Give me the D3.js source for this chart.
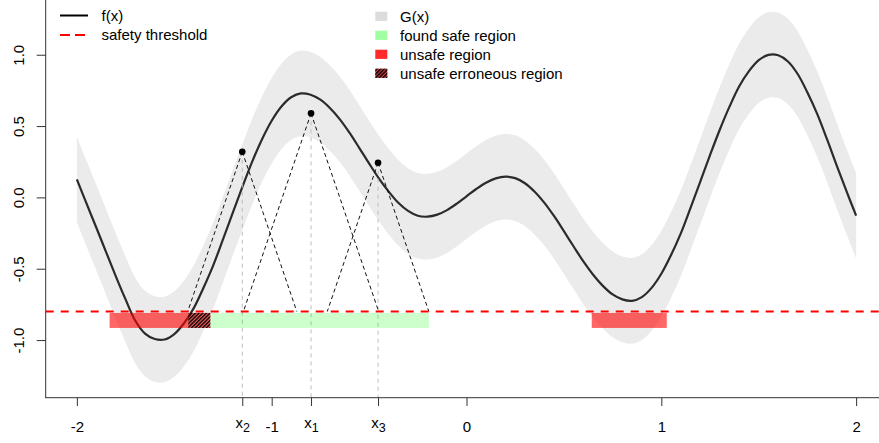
<!DOCTYPE html>
<html><head><meta charset="utf-8">
<script src="https://cdn.jsdelivr.net/npm/d3@7"></script>
<style>body{margin:0;background:#fff}svg{display:block;font-family:"Liberation Sans",Arial,sans-serif}</style>
</head><body><svg id="c" width="879" height="443"></svg>
<script>
// ---- data ----
const xGrid = [-2.00,-1.95,-1.90,-1.85,-1.80,-1.75,-1.70,-1.65,-1.60,-1.55,-1.50,-1.45,-1.40,-1.35,-1.30,-1.25,-1.20,-1.15,-1.10,-1.05,
 -1.00,-0.95,-0.90,-0.85,-0.80,-0.75,-0.70,-0.65,-0.60,-0.55,-0.50,-0.45,-0.40,-0.35,-0.30,-0.25,-0.20,-0.15,-0.10,-0.05,
 0.00,0.05,0.10,0.15,0.20,0.25,0.30,0.35,0.40,0.45,0.50,0.55,0.60,0.65,0.70,0.75,0.80,0.85,0.90,0.95,
 1.00,1.05,1.10,1.15,1.20,1.25,1.30,1.35,1.40,1.45,1.50,1.55,1.60,1.65,1.70,1.75,1.80,1.85,1.90,1.95,2.00];
const fValues = [0.126,-0.044,-0.213,-0.383,-0.553,-0.715,-0.865,-0.955,-0.993,-0.996,-0.958,-0.882,-0.776,-0.633,-0.476,-0.294,-0.109,0.075,0.251,0.406,
 0.537,0.637,0.702,0.729,0.720,0.685,0.625,0.547,0.452,0.346,0.238,0.134,0.042,-0.038,-0.095,-0.129,-0.135,-0.121,-0.089,-0.044,
 0.008,0.059,0.103,0.133,0.145,0.135,0.099,0.039,-0.038,-0.132,-0.237,-0.344,-0.449,-0.542,-0.620,-0.680,-0.715,-0.725,-0.699,-0.634,
 -0.535,-0.404,-0.252,-0.073,0.111,0.296,0.474,0.636,0.779,0.885,0.962,0.999,0.996,0.953,0.865,0.735,0.585,0.410,0.225,0.045,-0.128];
const gHalfWidth = 0.3;            // G(x) = f(x) +/- 0.3
const threshold = -0.8;
const lipschitz = 4;
const sampleNames = ["x1","x2","x3"];
const sampleX = [-0.798,-1.151,-0.454];
const sampleY = [0.589,0.320,0.243];
const unsafeRegions = [[-1.832,-1.315],[0.643,1.028]];
const erroneousRegions = [[-1.428,-1.315]];
const safeRegions = [[-1.315,-0.193]];
const regionBar = [-0.81,-0.915];
const xTickValues = [-2,-1,0,1,2];
const yTickValues = [-1,-0.5,0,0.5,1];
const legend1Labels = ["f(x)","safety threshold"];
const legend2Labels = ["G(x)","found safe region","unsafe region","unsafe erroneous region"];

// ---- drawing ----
const svg = d3.select("#c");
const x = d3.scaleLinear().domain([-2.16,2.16]).range([45.7,887.3]);
const y = d3.scaleLinear().domain([-1.404,1.404]).range([397.7,-2.9]);
const pts = xGrid.map((v,i)=>({x:v,f:fValues[i]}));

const defs = svg.append("defs");
const pat = defs.append("pattern").attr("id","hatch").attr("patternUnits","userSpaceOnUse")
  .attr("width",2.6).attr("height",10).attr("patternTransform","rotate(45)");
pat.append("line").attr("x1",0.7).attr("y1",0).attr("x2",0.7).attr("y2",10).attr("stroke","#000").attr("stroke-width",1.4);
defs.append("clipPath").attr("id","plot").append("rect").attr("x",45.7).attr("y",0).attr("width",833.3).attr("height",397.7);

const g = svg.append("g").attr("clip-path","url(#plot)");

// band
g.append("path").datum(pts).attr("fill","#ebebeb")
 .attr("d", d3.area().curve(d3.curveCatmullRom.alpha(0.5)).x(d=>x(d.x)).y0(d=>y(d.f-gHalfWidth)).y1(d=>y(d.f+gHalfWidth)));
// f(x)
g.append("path").datum(pts).attr("fill","none").attr("stroke","#2b2b2b").attr("stroke-width",2.2)
 .attr("d", d3.line().curve(d3.curveCatmullRom.alpha(0.5)).x(d=>x(d.x)).y(d=>y(d.f)));

// vertical grey dashed lines
sampleX.forEach((sx,i)=>{
  g.append("line").attr("x1",x(sx)).attr("x2",x(sx)).attr("y1",y(sampleY[i])).attr("y2",397.7)
   .attr("stroke","#bdbdbd").attr("stroke-width",1).attr("stroke-dasharray","4,4");
});
// cone lines
sampleX.forEach((sx,i)=>{
  const hw = (sampleY[i]-threshold)/lipschitz;
  [sx-hw, sx+hw].forEach(ex=>{
    g.append("line").attr("x1",x(sx)).attr("y1",y(sampleY[i])).attr("x2",x(ex)).attr("y2",y(threshold))
     .attr("stroke","#111").attr("stroke-width",1).attr("stroke-dasharray","4,3");
  });
});

// region bars
safeRegions.forEach(r=>g.append("rect").attr("x",x(r[0])).attr("width",x(r[1])-x(r[0]))
  .attr("y",y(regionBar[0])).attr("height",y(regionBar[1])-y(regionBar[0])).attr("fill","rgba(0,255,0,0.2)"));
unsafeRegions.forEach(r=>g.append("rect").attr("x",x(r[0])).attr("width",x(r[1])-x(r[0]))
  .attr("y",y(regionBar[0])).attr("height",y(regionBar[1])-y(regionBar[0])).attr("fill","rgba(255,0,0,0.6)"));
erroneousRegions.forEach(r=>g.append("rect").attr("x",x(r[0])).attr("width",x(r[1])-x(r[0]))
  .attr("y",y(regionBar[0])).attr("height",y(regionBar[1])-y(regionBar[0])).attr("fill","url(#hatch)"));

// threshold
g.append("line").attr("x1",45.7).attr("x2",879).attr("y1",y(threshold)).attr("y2",y(threshold))
 .attr("stroke","#ff0000").attr("stroke-width",2).attr("stroke-dasharray","8,7");

// points
sampleX.forEach((sx,i)=>g.append("circle").attr("cx",x(sx)).attr("cy",y(sampleY[i])).attr("r",3.3).attr("fill","#000"));

// axes
const xTicksAll = xTickValues.concat(sampleX);
const xa = svg.append("g").attr("transform","translate(0,397.7)")
  .call(d3.axisBottom(x).tickValues(xTicksAll).tickSize(8.3).tickPadding(15).tickFormat((d,i)=> i<xTickValues.length ? String(d) : ""));
xa.select(".domain").remove();
xa.selectAll(".tick line").attr("stroke","#333");
xa.selectAll(".tick text").attr("font-size",15).attr("fill","#000").attr("font-family","Liberation Sans, Arial, sans-serif");
xa.selectAll(".tick").each(function(d,i){
  if(i>=xTickValues.length){
    const k = i-xTickValues.length;
    const t = d3.select(this).select("text").text(null).attr("dy",null).attr("y",30.6);
    t.append("tspan").text("x");
    t.append("tspan").attr("dy",4).attr("font-size",12.5).text(sampleNames[k].slice(1));
  }
});
const ya = svg.append("g").attr("transform","translate(45.7,0)")
  .call(d3.axisLeft(y).tickValues(yTickValues).tickSize(9).tickFormat(d=>d.toFixed(1)));
ya.select(".domain").remove();
ya.selectAll(".tick line").attr("stroke","#333");
ya.selectAll(".tick text").attr("font-size",15).attr("fill","#000").attr("font-family","Liberation Sans, Arial, sans-serif")
  .attr("x",null).attr("dy",null).attr("text-anchor","middle").attr("transform","translate(-22.2,0) rotate(-90)");

// box lines (bty = "l")
svg.append("line").attr("x1",45.7).attr("x2",45.7).attr("y1",0).attr("y2",398).attr("stroke","#333").attr("stroke-width",1);
svg.append("line").attr("x1",45.2).attr("x2",879).attr("y1",397.7).attr("y2",397.7).attr("stroke","#333").attr("stroke-width",1);

// legend 1
const l1 = svg.append("g").attr("font-size",15);
[0,1].forEach(i=>{
  const cy = 15.5 + i*19.5;
  l1.append("line").attr("x1",60).attr("x2",88).attr("y1",cy).attr("y2",cy)
    .attr("stroke", i===0 ? "#000" : "#ff0000").attr("stroke-width",2).attr("stroke-dasharray", i===0 ? null : "10,5");
  l1.append("text").attr("x",101.5).attr("y",cy+5.2).text(legend1Labels[i]);
});
// legend 2
const l2 = svg.append("g").attr("font-size",15);
const boxFill = ["#dcdcdc","#a0ffa0","#ff2a2a","#c84040"];
legend2Labels.forEach((lab,i)=>{
  const cy = 16.3 + i*19;
  l2.append("rect").attr("x",375.3).attr("y",cy-4.6).attr("width",12).attr("height",9.2).attr("fill",boxFill[i]);
  if(i===3) l2.append("rect").attr("x",375.3).attr("y",cy-4.6).attr("width",12).attr("height",9.2).attr("fill","url(#hatch)");
  l2.append("text").attr("x",400).attr("y",cy+5.2).text(lab);
});
</script></body></html>
